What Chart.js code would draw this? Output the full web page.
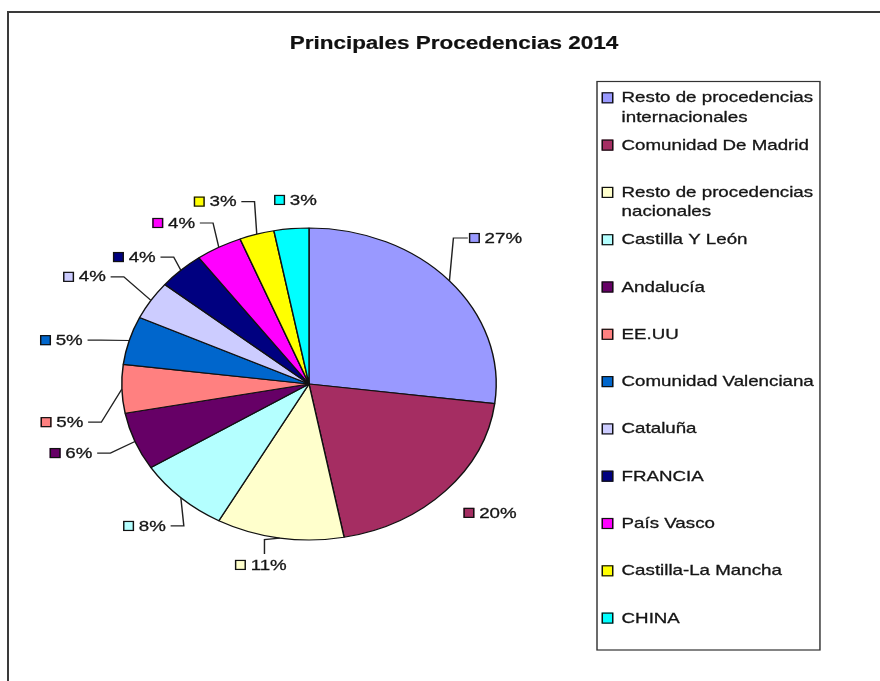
<!DOCTYPE html>
<html><head><meta charset="utf-8">
<script src="https://cdn.jsdelivr.net/npm/chart.js@4.4.1/dist/chart.umd.min.js"></script>
<style>
html,body{margin:0;padding:0;background:#fff;overflow:hidden;}
#wrap{position:relative;width:880px;height:681px;overflow:hidden;}
#frame{position:absolute;left:7px;top:11px;width:2000px;height:2000px;border:2px solid #3a3a3a;}
canvas{position:absolute;left:0;top:0;}
</style></head><body>
<div id="wrap"><div id="frame"></div><canvas id="c" width="880" height="681"></canvas></div>
<script>
// ---- data ----
const chartTitle = 'Principales Procedencias 2014';
const categories = [
  ['Resto de procedencias', 'internacionales'],
  'Comunidad De Madrid',
  ['Resto de procedencias', 'nacionales'],
  'Castilla Y León',
  'Andalucía',
  'EE.UU',
  'Comunidad Valenciana',
  'Cataluña',
  'FRANCIA',
  'País Vasco',
  'Castilla-La Mancha',
  'CHINA'
];
const values = [27, 20, 11, 8, 6, 5, 5, 4, 4, 4, 3, 3];
const colors = ['#9999FF', '#A52D62', '#FFFFCC', '#B4FFFF', '#660066', '#FF8080',
                '#0066CC', '#CCCCFF', '#000080', '#FF00FF', '#FFFF00', '#00FFFF'];

// ---- label layout (style) ----
const labelAngleShift = [-1.8, -2.7, 3.5, 0.8, 2.4, -8.7, -4.2, -2.6, -5.7, -6.2, -7.0, 1.9];
const labelDist = [1.367, 1.272, 1.188, 1.265, 1.346, 1.342, 1.352, 1.382, 1.238, 1.26, 1.272, 1.182];
const showLeader = [true, false, true, true, true, true, true, true, true, true, true, false];

const SX = 1.2;      // horizontal stretch of the whole drawing
const TS = 1.04;     // extra text stretch
const FONT = '15px "Liberation Sans", Arial, sans-serif';
const TFONT = 'bold 17.5px "Liberation Sans", Arial, sans-serif';

function sText(ctx, t, x, y, align, ts, sw) {
  const w = ctx.measureText(t).width * ts;
  const x0 = align === 'center' ? x - w / 2 : align === 'right' ? x - w : x;
  ctx.save();
  ctx.translate(x0, y);
  ctx.scale(ts, 1);
  ctx.textAlign = 'left';
  ctx.fillText(t, 0, 0);
  if (sw) { ctx.lineWidth = sw; ctx.strokeStyle = ctx.fillStyle; ctx.strokeText(t, 0, 0); }
  ctx.restore();
  return w;
}

const stretchPlugin = {
  id: 'stretch',
  beforeDraw(chart) { chart.ctx.save(); chart.ctx.scale(SX, 1); },
  afterDraw(chart) { chart.ctx.restore(); }
};

const decorPlugin = {
  id: 'decor',
  afterDatasetsDraw(chart) {
    const ctx = chart.ctx;
    const total = values.reduce((a, b) => a + b, 0);
    // title
    ctx.save();
    ctx.fillStyle = '#111';
    ctx.font = TFONT;
    ctx.textBaseline = 'alphabetic';
    sText(ctx, chartTitle, 378.3, 48.5, 'center', 1.07, 0.2);
    ctx.restore();

    // data labels
    const meta = chart.getDatasetMeta(0);
    ctx.save();
    ctx.font = FONT;
    ctx.textBaseline = 'middle';
    ctx.lineWidth = 1;
    meta.data.forEach((arc, i) => {
      const p = arc.getProps(['x', 'y', 'outerRadius', 'startAngle', 'endAngle'], true);
      const mid = (p.startAngle + p.endAngle) / 2;
      const la = mid + labelAngleShift[i] * Math.PI / 180;
      const lx = p.x + Math.cos(la) * p.outerRadius * labelDist[i];
      const ly = p.y + Math.sin(la) * p.outerRadius * labelDist[i];
      const txt = Math.round(values[i] / total * 100) + '%';
      const tw = ctx.measureText(txt).width * TS;
      const sw = 9, gap = 4;
      const gw = sw + gap + tw;
      const gx0 = lx - gw / 2;
      // swatch
      ctx.fillStyle = colors[i];
      ctx.fillRect(gx0, ly - 5, sw, 10);
      ctx.strokeStyle = '#111';
      ctx.lineWidth = 1.2;
      ctx.strokeRect(gx0 + 0.5, ly - 4.5, sw - 1, 9);
      // text
      ctx.fillStyle = '#151515';
      sText(ctx, txt, gx0 + sw + gap, ly + 0.5, 'left', TS, 0.3);
      // leader
      if (showLeader[i]) {
        const px = p.x + Math.cos(mid) * p.outerRadius;
        const py = p.y + Math.sin(mid) * p.outerRadius;
        let ax, ay, ex, ey;
        const vs = Math.sin(la);
        if (Math.abs(vs) > 0.95) {
          ax = lx + 3; ay = vs > 0 ? ly - 11 : ly + 11;
          ex = ax; ey = vs > 0 ? py + 1.5 : py - 1.5;
        } else if (Math.cos(la) > 0) {
          ax = gx0 - 1; ay = ly; ex = ax - 12; ey = ly;
        } else {
          ax = gx0 + gw + 4; ay = ly; ex = ax + 11; ey = ly;
        }
        ctx.strokeStyle = '#222';
        ctx.lineWidth = 1.2;
        ctx.beginPath();
        ctx.moveTo(px, py);
        ctx.lineTo(ex, ey);
        ctx.lineTo(ax, ay);
        ctx.stroke();
      }
    });
    ctx.restore();

    // legend
    ctx.save();
    ctx.strokeStyle = '#333';
    ctx.lineWidth = 1.2;
    ctx.strokeRect(497.5, 81.5, 185.8, 568.5);
    ctx.font = FONT;
    ctx.textBaseline = 'alphabetic';
    categories.forEach((c, i) => {
      const lines = Array.isArray(c) ? c : [c];
      const by = 102.3 + 47.3 * i;
      ctx.fillStyle = colors[i];
      ctx.fillRect(501.4, by - 10, 9.7, 11);
      ctx.strokeStyle = '#111';
      ctx.lineWidth = 1.2;
      ctx.strokeRect(501.9, by - 9.5, 8.7, 10);
      ctx.fillStyle = '#151515';
      lines.forEach((ln, j) => sText(ctx, ln, 518, by + 19.4 * j, 'left', TS, 0.3));
    });
    ctx.restore();
  }
};

new Chart(document.getElementById('c'), {
  type: 'pie',
  data: {
    labels: categories.map(c => Array.isArray(c) ? c.join(' ') : c),
    datasets: [{
      data: values,
      backgroundColor: colors,
      borderColor: '#111',
      borderWidth: 1.2,
      radius: 156
    }]
  },
  options: {
    responsive: false,
    animation: false,
    events: [],
    layout: { padding: { left: 101.5, right: 880 - 413.5, top: 228, bottom: 141 } },
    plugins: { legend: { display: false }, title: { display: false }, tooltip: { enabled: false } }
  },
  plugins: [stretchPlugin, decorPlugin]
});
</script>
</body></html>
